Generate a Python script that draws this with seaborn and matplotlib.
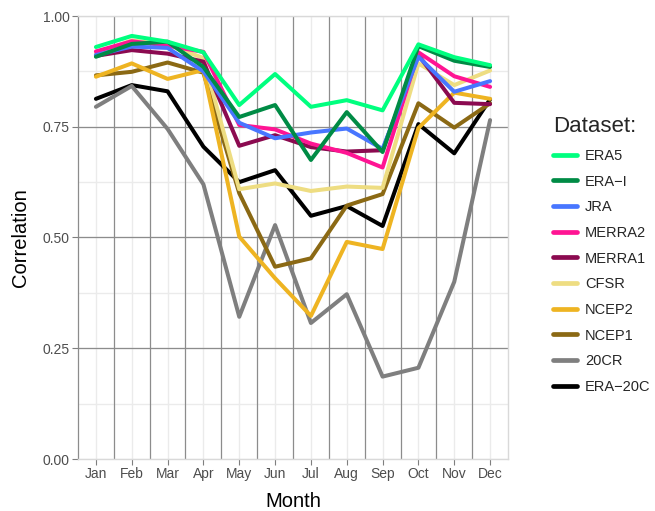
import matplotlib
matplotlib.use("Agg")
import matplotlib.pyplot as plt
from matplotlib.lines import Line2D
import numpy as np
import pandas as pd
import seaborn as sns

months = ["Jan", "Feb", "Mar", "Apr", "May", "Jun",
          "Jul", "Aug", "Sep", "Oct", "Nov", "Dec"]

era5    = [0.930, 0.955, 0.942, 0.918, 0.799, 0.869, 0.795, 0.810, 0.787, 0.936, 0.907, 0.889]
era_i   = [0.908, 0.937, 0.942, 0.885, 0.772, 0.799, 0.675, 0.783, 0.693, 0.932, 0.899, 0.885]
jra     = [0.912, 0.931, 0.928, 0.875, 0.759, 0.724, 0.737, 0.746, 0.700, 0.908, 0.829, 0.853]
merra2  = [0.920, 0.943, 0.933, 0.919, 0.754, 0.744, 0.712, 0.691, 0.658, 0.918, 0.864, 0.840]
merra1  = [0.910, 0.923, 0.915, 0.897, 0.707, 0.731, 0.704, 0.694, 0.697, 0.912, 0.804, 0.801]
cfsr    = [0.915, 0.945, 0.935, 0.905, 0.609, 0.622, 0.605, 0.615, 0.612, 0.893, 0.844, 0.877]
ncep2   = [0.863, 0.893, 0.858, 0.878, 0.502, 0.408, 0.323, 0.490, 0.474, 0.747, 0.827, 0.813]
ncep1   = [0.866, 0.874, 0.895, 0.872, 0.600, 0.434, 0.453, 0.572, 0.598, 0.803, 0.748, 0.803]
cr20    = [0.795, 0.842, 0.745, 0.620, 0.321, 0.528, 0.307, 0.372, 0.186, 0.206, 0.400, 0.765]
era20c  = [0.813, 0.844, 0.830, 0.705, 0.625, 0.652, 0.549, 0.571, 0.526, 0.756, 0.690, 0.812]

datasets = ["ERA5", "ERA\u2212I", "JRA", "MERRA2", "MERRA1",
            "CFSR", "NCEP2", "NCEP1", "20CR", "ERA\u221220C"]
series = [era5, era_i, jra, merra2, merra1, cfsr, ncep2, ncep1, cr20, era20c]
colors = ["#00FF7F", "#008B45", "#4876FF", "#FF1493", "#8B0A50",
          "#EEDD82", "#EEB422", "#8B6914", "#7F7F7F", "#000000"]

y_ticks = [0.00, 0.25, 0.50, 0.75, 1.00]
y_tick_labels = ["0.00", "0.25", "0.50", "0.75", "1.00"]

# draw order: back to front (the last-listed dataset sits at the bottom)
draw_order = list(reversed(datasets))

df = pd.DataFrame({
    "Month": np.tile(np.arange(len(months)), len(datasets)),
    "Correlation": np.concatenate(series),
    "Dataset": np.repeat(datasets, len(months)),
})

sns.set_theme(style="white")
plt.rcParams["font.family"] = ["Liberation Sans", "DejaVu Sans"]

fig = plt.figure(figsize=(6.55, 5.11), dpi=100)
ax = fig.add_axes([78 / 655, 1 - 459 / 511, (508 - 78) / 655, (459 - 16) / 511])

palette = dict(zip(datasets, colors))

# light grid
for yv in np.arange(0, 1.0001, 0.125):
    ax.axhline(yv, color="#EBEBEB", lw=1.0, zorder=0)
for xv in range(len(months)):
    ax.axvline(xv, color="#EBEBEB", lw=1.0, zorder=0)
# darker reference lines
for yv in [0.25, 0.5, 0.75]:
    ax.axhline(yv, color="#8C8C8C", lw=0.9, zorder=0.5)
for xv in np.arange(0.5, len(months) - 1, 1.0):
    ax.axvline(xv, color="#8C8C8C", lw=0.9, zorder=0.5)

sns.lineplot(data=df, x="Month", y="Correlation", hue="Dataset",
             hue_order=draw_order, palette=palette, linewidth=2.9,
             legend=False, ax=ax, zorder=3)

ax.set_xlim(-0.5, len(months) - 0.5)
ax.set_ylim(0, 1)
ax.set_xticks(range(len(months)))
ax.set_xticklabels(months)
ax.set_yticks(y_ticks)
ax.set_yticklabels(y_tick_labels)
ax.tick_params(axis="both", which="both", length=4, width=0.8, color="#7F7F7F",
               labelcolor="#4D4D4D", labelsize=10, pad=2, direction="out",
               bottom=True, left=True)

for side in ["top", "right", "bottom"]:
    ax.spines[side].set_color("#D9D9D9")
    ax.spines[side].set_linewidth(1.0)
ax.spines["left"].set_color("#8C8C8C")
ax.spines["left"].set_linewidth(0.9)

ax.set_xlabel("Month", fontsize=14.5, color="black", labelpad=8)
ax.set_ylabel("Correlation", fontsize=14.5, color="black", labelpad=9)

handles = [Line2D([0], [0], color=c, lw=3.4) for c in colors]
leg = fig.legend(handles, datasets, title="Dataset:", loc="center left",
                 bbox_to_anchor=(540 / 655, 1 - 255 / 511), frameon=False,
                 fontsize=10.5, title_fontsize=16, handlelength=1.65,
                 handletextpad=0.55, labelspacing=0.8, alignment="left")

fig.savefig("out.png", dpi=100, facecolor="white")
